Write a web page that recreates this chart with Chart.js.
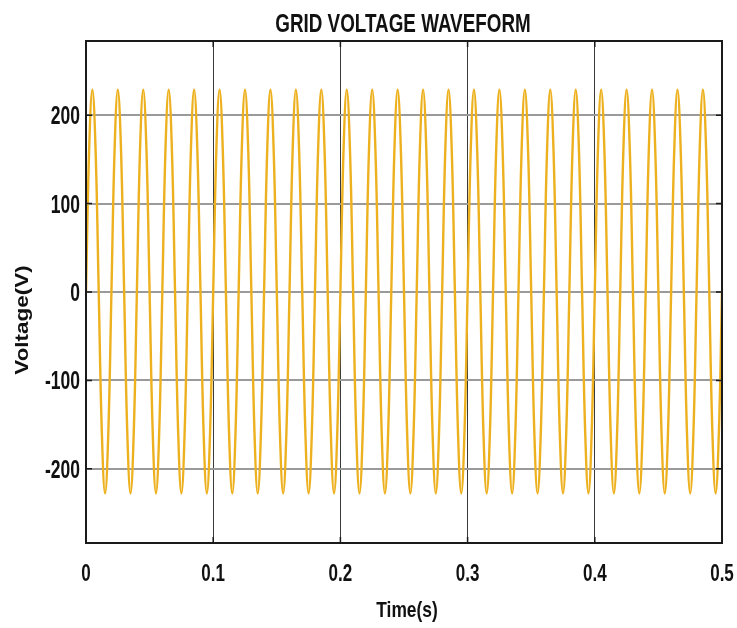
<!DOCTYPE html>
<html>
<head>
<meta charset="utf-8">
<script src="https://cdn.jsdelivr.net/npm/chart.js@4.4.0/dist/chart.umd.min.js"></script>
<style>
  html, body { margin: 0; padding: 0; background: #fff; }
  #wrap { width: 737px; height: 628px; }
</style>
</head>
<body>
<div id="wrap"><canvas id="chart" width="737" height="628"></canvas></div>
<script>
/* ── Data (50 Hz, ~229 V peak, 8 samples per cycle) ── */

const TITLE   = 'GRID VOLTAGE WAVEFORM';
const X_LABEL = 'Time(s)';
const Y_LABEL = 'Voltage(V)';

const X_TICKS = [0, 0.1, 0.2, 0.3, 0.4, 0.5];
const Y_TICKS = [-200, -100, 0, 100, 200];

const TIME_S = [
  0,    0.0025, 0.005, 0.0075, 0.01, 0.0125, 0.015, 0.0175,
  0.02, 0.0225, 0.025, 0.0275, 0.03, 0.0325, 0.035, 0.0375,
  0.04, 0.0425, 0.045, 0.0475, 0.05, 0.0525, 0.055, 0.0575,
  0.06, 0.0625, 0.065, 0.0675, 0.07, 0.0725, 0.075, 0.0775,
  0.08, 0.0825, 0.085, 0.0875, 0.09, 0.0925, 0.095, 0.0975,
  0.1,  0.1025, 0.105, 0.1075, 0.11, 0.1125, 0.115, 0.1175,
  0.12, 0.1225, 0.125, 0.1275, 0.13, 0.1325, 0.135, 0.1375,
  0.14, 0.1425, 0.145, 0.1475, 0.15, 0.1525, 0.155, 0.1575,
  0.16, 0.1625, 0.165, 0.1675, 0.17, 0.1725, 0.175, 0.1775,
  0.18, 0.1825, 0.185, 0.1875, 0.19, 0.1925, 0.195, 0.1975,
  0.2,  0.2025, 0.205, 0.2075, 0.21, 0.2125, 0.215, 0.2175,
  0.22, 0.2225, 0.225, 0.2275, 0.23, 0.2325, 0.235, 0.2375,
  0.24, 0.2425, 0.245, 0.2475, 0.25, 0.2525, 0.255, 0.2575,
  0.26, 0.2625, 0.265, 0.2675, 0.27, 0.2725, 0.275, 0.2775,
  0.28, 0.2825, 0.285, 0.2875, 0.29, 0.2925, 0.295, 0.2975,
  0.3,  0.3025, 0.305, 0.3075, 0.31, 0.3125, 0.315, 0.3175,
  0.32, 0.3225, 0.325, 0.3275, 0.33, 0.3325, 0.335, 0.3375,
  0.34, 0.3425, 0.345, 0.3475, 0.35, 0.3525, 0.355, 0.3575,
  0.36, 0.3625, 0.365, 0.3675, 0.37, 0.3725, 0.375, 0.3775,
  0.38, 0.3825, 0.385, 0.3875, 0.39, 0.3925, 0.395, 0.3975,
  0.4,  0.4025, 0.405, 0.4075, 0.41, 0.4125, 0.415, 0.4175,
  0.42, 0.4225, 0.425, 0.4275, 0.43, 0.4325, 0.435, 0.4375,
  0.44, 0.4425, 0.445, 0.4475, 0.45, 0.4525, 0.455, 0.4575,
  0.46, 0.4625, 0.465, 0.4675, 0.47, 0.4725, 0.475, 0.4775,
  0.48, 0.4825, 0.485, 0.4875, 0.49, 0.4925, 0.495, 0.4975,
  0.5,
];

const VOLTAGE_V = [
  0, 162, 229, 162, 0, -161, -228, -161,
  0, 162, 229, 162, 0, -161, -228, -161,
  0, 162, 229, 162, 0, -161, -228, -161,
  0, 162, 229, 162, 0, -161, -228, -161,
  0, 162, 229, 162, 0, -161, -228, -161,
  0, 162, 229, 162, 0, -161, -228, -161,
  0, 162, 229, 162, 0, -161, -228, -161,
  0, 162, 229, 162, 0, -161, -228, -161,
  0, 162, 229, 162, 0, -161, -228, -161,
  0, 162, 229, 162, 0, -161, -228, -161,
  0, 162, 229, 162, 0, -161, -228, -161,
  0, 162, 229, 162, 0, -161, -228, -161,
  0, 162, 229, 162, 0, -161, -228, -161,
  0, 162, 229, 162, 0, -161, -228, -161,
  0, 162, 229, 162, 0, -161, -228, -161,
  0, 162, 229, 162, 0, -161, -228, -161,
  0, 162, 229, 162, 0, -161, -228, -161,
  0, 162, 229, 162, 0, -161, -228, -161,
  0, 162, 229, 162, 0, -161, -228, -161,
  0, 162, 229, 162, 0, -161, -228, -161,
  0, 162, 229, 162, 0, -161, -228, -161,
  0, 162, 229, 162, 0, -161, -228, -161,
  0, 162, 229, 162, 0, -161, -228, -161,
  0, 162, 229, 162, 0, -161, -228, -161,
  0, 162, 229, 162, 0, -161, -228, -161,
  0,
];

/* ── Style ───────────────────────────────────────────────────── */
const LINE_COLOR = '#EDB120';
const FONT = "'Liberation Sans', Arial, sans-serif";
const SQUEEZE = 0.74;   /* the source image is squashed horizontally */

/* text drawn squeezed along screen x */
function squeezed(ctx, text, x, y, size, align, sx = SQUEEZE) {
  ctx.save();
  ctx.font = `bold ${size}px ${FONT}`;
  ctx.textAlign = align;
  ctx.textBaseline = 'alphabetic';
  ctx.translate(x, y);
  ctx.scale(sx, 1);
  ctx.fillText(text, 0, 0);
  ctx.restore();
}

/* Box around the plot, inward tick marks and all the text (MATLAB look) */
const frame = {
  id: 'frame',
  afterDatasetsDraw(chart) {
    const { ctx, chartArea: a, scales: { x, y } } = chart;
    ctx.save();
    ctx.strokeStyle = '#1a1a1a';
    ctx.lineWidth = 1.5;
    ctx.beginPath();
    Y_TICKS.forEach(v => {
      const py = y.getPixelForValue(v);
      ctx.moveTo(a.left, py);  ctx.lineTo(a.left + 6, py);
      ctx.moveTo(a.right, py); ctx.lineTo(a.right - 6, py);
    });
    X_TICKS.forEach(v => {
      const px = x.getPixelForValue(v);
      ctx.moveTo(px, a.bottom); ctx.lineTo(px, a.bottom - 6);
      ctx.moveTo(px, a.top);    ctx.lineTo(px, a.top + 6);
    });
    ctx.stroke();
    ctx.lineWidth = 2;
    ctx.strokeRect(a.left, a.top, a.right - a.left, a.bottom - a.top);
    ctx.fillStyle = '#111';

    /* title */
    squeezed(ctx, TITLE, (a.left + a.right) / 2 - 1, a.top - 9, 26, 'center', 0.725);

    /* tick labels */
    X_TICKS.forEach(v => {
      squeezed(ctx, String(v), x.getPixelForValue(v), a.bottom + 38, 23, 'center');
    });
    Y_TICKS.forEach(v => {
      squeezed(ctx, String(v), a.left - 6, y.getPixelForValue(v) + 9, 25, 'right', 0.7);
    });

    /* axis titles */
    squeezed(ctx, X_LABEL, (a.left + a.right) / 2 + 3, a.bottom + 74, 22, 'center', 0.79);

    ctx.save();
    ctx.font = `bold 22px ${FONT}`;
    ctx.textAlign = 'center';
    ctx.textBaseline = 'alphabetic';
    ctx.translate(28, 320);
    ctx.rotate(-Math.PI / 2);
    ctx.scale(1.02, 0.8);
    ctx.fillText(Y_LABEL, 0, 0);
    ctx.restore();

    ctx.restore();
  },
};

new Chart(document.getElementById('chart'), {
  type: 'line',
  data: {
    datasets: [{
      data: TIME_S.map((t, i) => ({ x: t, y: VOLTAGE_V[i] })),
      borderColor: LINE_COLOR,
      borderWidth: 2.4,
      pointRadius: 0,
      tension: 0.4,
      fill: false,
    }],
  },
  options: {
    responsive: false,
    animation: false,
    layout: { padding: { top: 41, right: 15, bottom: 0, left: 0 } },
    plugins: {
      legend: { display: false },
      tooltip: { enabled: false },
      title: { display: false },
    },
    scales: {
      x: {
        type: 'linear',
        min: 0, max: 0.5,
        afterFit: s => { s.height = 85; },
        afterBuildTicks: s => { s.ticks = X_TICKS.map(v => ({ value: v })); },
        grid: {
          drawTicks: false,
          color: c => (c.tick && c.tick.value > 0 && c.tick.value < 0.5) ? '#3a3a3a' : 'rgba(0,0,0,0)',
          lineWidth: 1,
        },
        border: { display: false },
        ticks: { display: false },
      },
      y: {
        min: -284, max: 284,
        afterFit: s => { s.width = 86; },
        afterBuildTicks: s => { s.ticks = Y_TICKS.map(v => ({ value: v })); },
        grid: { drawTicks: false, color: '#9a9a9a', lineWidth: 2 },
        border: { display: false },
        ticks: { display: false },
      },
    },
  },
  plugins: [frame],
});
</script>
</body>
</html>
